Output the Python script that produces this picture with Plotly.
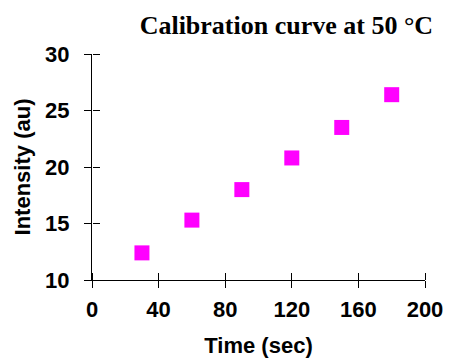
import plotly.graph_objects as go

# Calibration measurements
time_sec = [30, 60, 90, 120, 150, 180]
intensity_au = [12.4, 15.3, 18.0, 20.8, 23.5, 26.4]

x_ticks = [0, 40, 80, 120, 160, 200]
y_ticks = [10, 15, 20, 25, 30]

tick_font = dict(family="Liberation Sans, Arial, sans-serif", size=22, color="black", weight="bold")
label_font = dict(family="Liberation Sans, Arial, sans-serif", size=22, color="black", weight="bold")

fig = go.Figure()
fig.add_trace(go.Scatter(
    x=time_sec, y=intensity_au, mode="markers",
    marker=dict(symbol="square", size=15, color="#FF00FF", line=dict(width=0)),
    showlegend=False,
))
# transparent copy on the mirrored axes so their inward ticks are drawn
fig.add_trace(go.Scatter(
    x=time_sec, y=intensity_au, mode="markers", xaxis="x2", yaxis="y2",
    marker=dict(opacity=0), showlegend=False, hoverinfo="skip",
))

axis_common = dict(showgrid=False, zeroline=False, showline=True, linecolor="black",
                   linewidth=1, ticks="outside", ticklen=7, tickcolor="black", tickwidth=1,
                   automargin=False)
inner_common = dict(showticklabels=False, showgrid=False, zeroline=False, showline=False,
                    ticks="outside", ticklen=7, tickcolor="black", tickwidth=1,
                    anchor="free", position=0, automargin=False)

fig.update_layout(
    width=451, height=358,
    margin=dict(l=92, r=26, t=54, b=78),
    paper_bgcolor="white", plot_bgcolor="white",
    title=dict(text="Calibration curve at 50 °C", x=0.635, xanchor="center",
               y=0.93, yanchor="middle",
               font=dict(family="Liberation Serif, Times New Roman, serif", size=26,
                         color="black", weight="bold")),
    xaxis=dict(range=[0, 200], tickvals=x_ticks, tickfont=tick_font, ticklabelstandoff=3,
               title=dict(text="Time (sec)", font=label_font, standoff=16), **axis_common),
    yaxis=dict(range=[10, 30], tickvals=y_ticks, tickfont=tick_font, ticklabelstandoff=10,
               title=dict(text="Intensity (au)", font=label_font, standoff=8), **axis_common),
    # mirrored axes at the same spot, facing inward, to make the ticks cross the lines
    xaxis2=dict(range=[0, 200], tickvals=x_ticks, overlaying="x", side="top", **inner_common),
    yaxis2=dict(range=[10, 30], tickvals=y_ticks, overlaying="y", side="right", **inner_common),
)

fig.write_html("out.html")
